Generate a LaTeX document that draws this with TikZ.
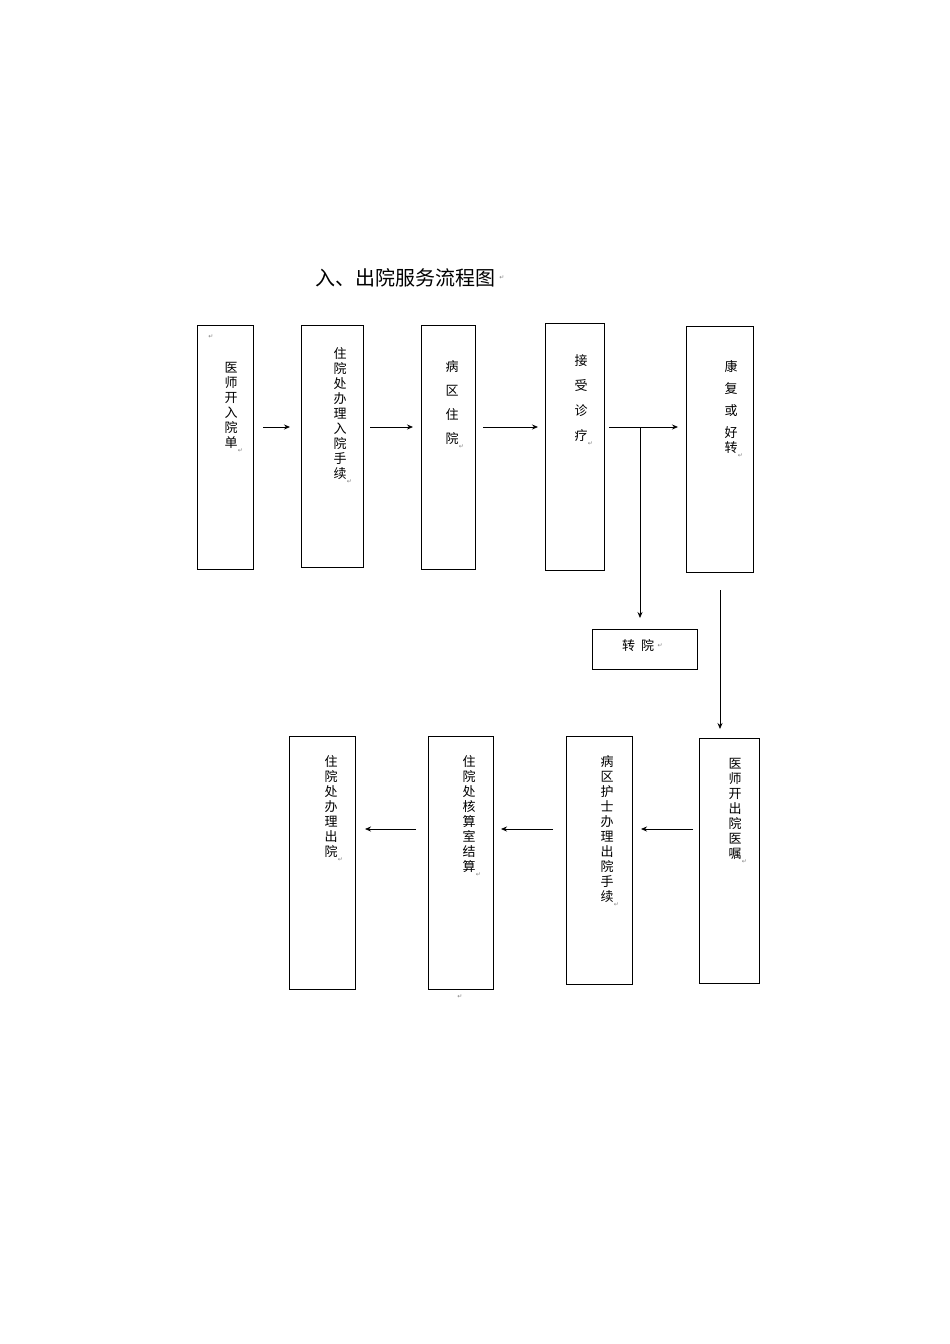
\documentclass[tikz,border=0pt]{standalone}
\usepackage{fontspec}
\newfontfamily\cjk{Noto Sans CJK SC}
\newfontfamily\dejavu{DejaVu Sans}
\usetikzlibrary{arrows.meta}
\begin{document}
\begin{tikzpicture}[x=1pt,y=-1pt,
  box/.style={draw,line width=0.8pt},
  vt/.style={anchor=north,align=center,font=\cjk\fontsize{13}{15}\selectfont,inner sep=0pt},
  arr/.style={-{Stealth[length=6pt,width=5pt]},line width=0.8pt},
  rm/.style={font=\dejavu\fontsize{6}{6}\selectfont,text=gray,inner sep=0pt}]
\useasboundingbox (0,0) rectangle (950,1344);
\node[font=\cjk\fontsize{20}{22}\selectfont,anchor=west] (title) at (312,278) {入、出院服务流程图};
\node[rm,anchor=west] at (title.east) {↵};
% top row
\draw[box] (197,325) rectangle (253,569);
\draw[box] (301,325) rectangle (363,567);
\draw[box] (421,325) rectangle (475,569);
\draw[box] (545,323) rectangle (604,570);
\draw[box] (686,326) rectangle (753,572);
\draw[box] (592,629) rectangle (697,669);
\node[rm] at (211,337) {↵};
\node[vt] (t1) at (231,362) {医\\师\\开\\入\\院\\单};
\node[rm,anchor=north west] at (t1.south east) {↵};
\node[vt] (t2) at (340,347) {住\\院\\处\\办\\理\\入\\院\\手\\续};
\node[rm,anchor=north west] at (t2.south east) {↵};
\node[vt,font=\cjk\fontsize{13}{24}\selectfont] (t3) at (452,360) {病\\区\\住\\院};
\node[rm,anchor=north west] at (t3.south east) {↵};
\node[vt,font=\cjk\fontsize{13}{25}\selectfont] (t4) at (581,354) {接\\受\\诊\\疗};
\node[rm,anchor=north west] at (t4.south east) {↵};
\node[vt,font=\cjk\fontsize{13}{22}\selectfont] (t5) at (731,360) {康\\复\\或\\好\\[-7pt]转};
\node[rm,anchor=north west] at (t5.south east) {↵};
\node[font=\cjk\fontsize{13}{15}\selectfont] (t6) at (638,646) {转\hspace{6pt}院};
\node[rm,anchor=west] at (t6.east) {↵};
% bottom row
\draw[box] (289,736) rectangle (355,989);
\draw[box] (428,736) rectangle (493,989);
\draw[box] (566,736) rectangle (632,984);
\draw[box] (699,738) rectangle (759,983);
\node[vt] (u1) at (331,755) {住\\院\\处\\办\\理\\出\\院};
\node[rm,anchor=north west] at (u1.south east) {↵};
\node[vt] (u2) at (469,755) {住\\院\\处\\核\\算\\室\\结\\算};
\node[rm,anchor=north west] at (u2.south east) {↵};
\node[vt] (u3) at (607,755) {病\\区\\护\\士\\办\\理\\出\\院\\手\\续};
\node[rm,anchor=north west] at (u3.south east) {↵};
\node[vt] (u4) at (735,758) {医\\师\\开\\出\\院\\医\\嘱};
\node[rm,anchor=north west] at (u4.south east) {↵};
\node[rm] at (460,997) {↵};
% arrows
\coordinate (a1) at (263,427); \coordinate (a2) at (290,427);
\draw[arr] (a1) -- (a2);
\coordinate (a3) at (370,427); \coordinate (a4) at (413,427);
\draw[arr] (a3) -- (a4);
\coordinate (a5) at (483,427); \coordinate (a6) at (538,427);
\draw[arr] (a5) -- (a6);
\coordinate (a7) at (609,427); \coordinate (a8) at (678,427);
\draw[arr] (a7) -- (a8);
\coordinate (a9) at (640,427); \coordinate (a10) at (640,618);
\draw[arr] (a9) -- (a10);
\coordinate (a11) at (720,590); \coordinate (a12) at (720,729);
\draw[arr] (a11) -- (a12);
\coordinate (c1) at (693,829); \coordinate (c2) at (641,829);
\draw[arr] (c1) -- (c2);
\coordinate (c3) at (553,829); \coordinate (c4) at (501,829);
\draw[arr] (c3) -- (c4);
\coordinate (c5) at (416,829); \coordinate (c6) at (365,829);
\draw[arr] (c5) -- (c6);
\end{tikzpicture}
\end{document}
